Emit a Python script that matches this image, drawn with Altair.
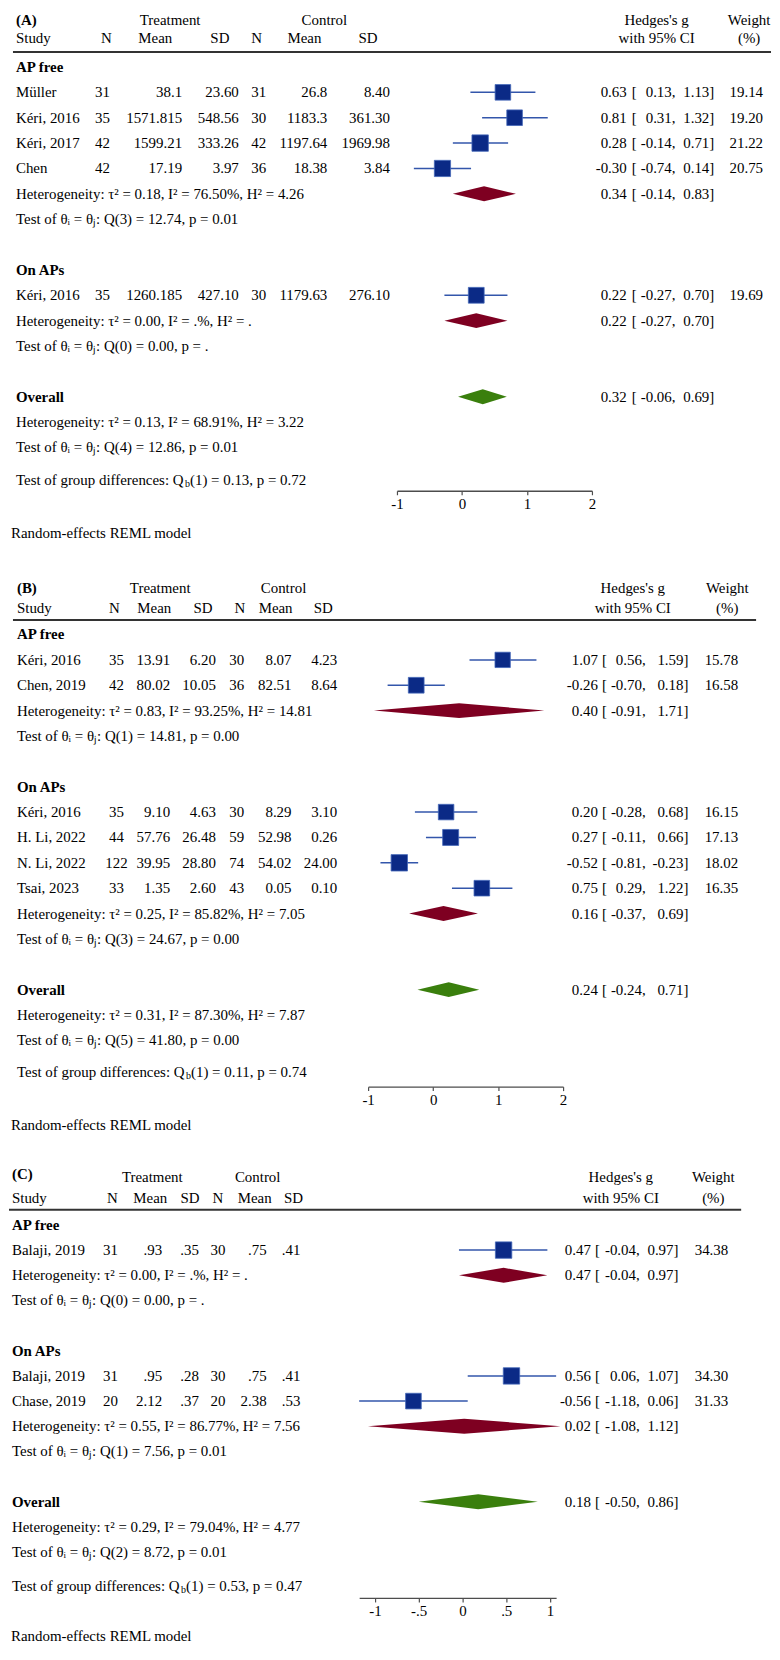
import altair as alt
import pandas as pd

# ============================ DATA ============================
# ---- Panel (A) ----
A_groups = ["AP free", "On APs"]
A_study = ["Müller", "Kéri, 2016", "Kéri, 2017", "Chen", "Kéri, 2016"]
A_group_of = ["AP free", "AP free", "AP free", "AP free", "On APs"]
A_t_n = ["31", "35", "42", "42", "35"]
A_t_mean = ["38.1", "1571.815", "1599.21", "17.19", "1260.185"]
A_t_sd = ["23.60", "548.56", "333.26", "3.97", "427.10"]
A_c_n = ["31", "30", "42", "36", "30"]
A_c_mean = ["26.8", "1183.3", "1197.64", "18.38", "1179.63"]
A_c_sd = ["8.40", "361.30", "1969.98", "3.84", "276.10"]
A_g = [0.63, 0.81, 0.28, -0.30, 0.22]
A_lo = [0.13, 0.31, -0.14, -0.74, -0.27]
A_hi = [1.13, 1.32, 0.71, 0.14, 0.70]
A_w = [19.14, 19.20, 21.22, 20.75, 19.69]
A_sub_g = [0.34, 0.22]
A_sub_lo = [-0.14, -0.27]
A_sub_hi = [0.83, 0.70]
A_sub_het = [("0.18", "76.50%", "4.26"), ("0.00", ".%", ".")]
A_sub_test = [("3", "12.74", "0.01"), ("0", "0.00", ".")]
A_all = (0.32, -0.06, 0.69)
A_all_het = ("0.13", "68.91%", "3.22")
A_all_test = ("4", "12.86", "0.01")
A_qb = ("1", "0.13", "0.72")
A_ticks = [-1, 0, 1, 2]

# ---- Panel (B) ----
B_groups = ["AP free", "On APs"]
B_study = ["Kéri, 2016", "Chen, 2019", "Kéri, 2016", "H. Li, 2022", "N. Li, 2022", "Tsai, 2023"]
B_group_of = ["AP free", "AP free", "On APs", "On APs", "On APs", "On APs"]
B_t_n = ["35", "42", "35", "44", "122", "33"]
B_t_mean = ["13.91", "80.02", "9.10", "57.76", "39.95", "1.35"]
B_t_sd = ["6.20", "10.05", "4.63", "26.48", "28.80", "2.60"]
B_c_n = ["30", "36", "30", "59", "74", "43"]
B_c_mean = ["8.07", "82.51", "8.29", "52.98", "54.02", "0.05"]
B_c_sd = ["4.23", "8.64", "3.10", "0.26", "24.00", "0.10"]
B_g = [1.07, -0.26, 0.20, 0.27, -0.52, 0.75]
B_lo = [0.56, -0.70, -0.28, -0.11, -0.81, 0.29]
B_hi = [1.59, 0.18, 0.68, 0.66, -0.23, 1.22]
B_w = [15.78, 16.58, 16.15, 17.13, 18.02, 16.35]
B_sub_g = [0.40, 0.16]
B_sub_lo = [-0.91, -0.37]
B_sub_hi = [1.71, 0.69]
B_sub_het = [("0.83", "93.25%", "14.81"), ("0.25", "85.82%", "7.05")]
B_sub_test = [("1", "14.81", "0.00"), ("3", "24.67", "0.00")]
B_all = (0.24, -0.24, 0.71)
B_all_het = ("0.31", "87.30%", "7.87")
B_all_test = ("5", "41.80", "0.00")
B_qb = ("1", "0.11", "0.74")
B_ticks = [-1, 0, 1, 2]

# ---- Panel (C) ----
C_groups = ["AP free", "On APs"]
C_study = ["Balaji, 2019", "Balaji, 2019", "Chase, 2019"]
C_group_of = ["AP free", "On APs", "On APs"]
C_t_n = ["31", "31", "20"]
C_t_mean = [".93", ".95", "2.12"]
C_t_sd = [".35", ".28", ".37"]
C_c_n = ["30", "30", "20"]
C_c_mean = [".75", ".75", "2.38"]
C_c_sd = [".41", ".41", ".53"]
C_g = [0.47, 0.56, -0.56]
C_lo = [-0.04, 0.06, -1.18]
C_hi = [0.97, 1.07, 0.06]
C_w = [34.38, 34.30, 31.33]
C_sub_g = [0.47, 0.02]
C_sub_lo = [-0.04, -1.08]
C_sub_hi = [0.97, 1.12]
C_sub_het = [("0.00", ".%", "."), ("0.55", "86.77%", "7.56")]
C_sub_test = [("0", "0.00", "."), ("1", "7.56", "0.01")]
C_all = (0.18, -0.50, 0.86)
C_all_het = ("0.29", "79.04%", "4.77")
C_all_test = ("2", "8.72", "0.01")
C_qb = ("1", "0.53", "0.47")
C_ticks = [-1, -0.5, 0, 0.5, 1]

# ============================ STYLE / LAYOUT ============================
FONT = "Liberation Serif"
FS = 15
NAVY = "#0b2a86"
CI_COL = "#3356ab"
MAROON = "#7e0021"
GREEN = "#3a7f0d"
MARGIN = 8
PANEL_W = 764
SPACING = 86
QB_EM = 11.33  # width (em) of "Test of group differences: Q" in Times metrics

LAYOUT = {
    "A": dict(top=8, height=481, base=63, sp=25.5,
              xdomain=[-1, 2], xpage=[396, 592],
              hdr1=-1.84, hdr_tag=-1.84, hdr2=-1.14, line=-0.59, qb=16.27, rand=18.39,
              line_x=[10, 772], tag="(A)",
              x=dict(lab=13, tN=100, tM=180, tS=237, cN=257, cM=326, cS=389,
                     est=627, brk=632, lo=676, hi=715, wt=764,
                     hTreat=168, hCtrl=323, hN1=104, hM1=153, hS1=218,
                     hN2=255, hM2=303, hS2=367, hHg=657, hWt=750)),
    "B": dict(top=575, height=513, base=633.5, sp=25.5,
              xdomain=[-1, 2], xpage=[367, 563],
              hdr1=-1.82, hdr_tag=-1.82, hdr2=-1.04, line=-0.57, qb=17.24, rand=19.35,
              line_x=[10, 757], tag="(B)",
              x=dict(lab=14, tN=114, tM=168, tS=214, cN=235, cM=290, cS=336,
                     est=598, brk=602, lo=646, hi=689, wt=739,
                     hTreat=158, hCtrl=282, hN1=112, hM1=152, hS1=201,
                     hN2=238, hM2=274, hS2=322, hHg=633, hWt=728)),
    "C": dict(top=1174, height=428, base=1227, sp=25.3,
              xdomain=[-1.18, 1.07], xpage=[358, 556],
              hdr1=-1.9, hdr_tag=-2.02, hdr2=-1.07, line=-0.6, qb=14.34, rand=16.32,
              line_x=[6, 742], tag="(C)",
              x=dict(lab=9, tN=108, tM=160, tS=197, cN=216, cM=265, cS=299,
                     est=591, brk=595, lo=640, hi=679, wt=729,
                     hTreat=150, hCtrl=256, hN1=110, hM1=148, hS1=188,
                     hN2=216, hM2=253, hS2=292, hHg=621, hWt=714)),
}

PANELS = {
    "A": dict(groups=A_groups, study=A_study, group_of=A_group_of, t_n=A_t_n, t_mean=A_t_mean,
              t_sd=A_t_sd, c_n=A_c_n, c_mean=A_c_mean, c_sd=A_c_sd, g=A_g, lo=A_lo, hi=A_hi,
              w=A_w, sub_g=A_sub_g, sub_lo=A_sub_lo, sub_hi=A_sub_hi, sub_het=A_sub_het,
              sub_test=A_sub_test, all=A_all, all_het=A_all_het, all_test=A_all_test,
              qb=A_qb, ticks=A_ticks),
    "B": dict(groups=B_groups, study=B_study, group_of=B_group_of, t_n=B_t_n, t_mean=B_t_mean,
              t_sd=B_t_sd, c_n=B_c_n, c_mean=B_c_mean, c_sd=B_c_sd, g=B_g, lo=B_lo, hi=B_hi,
              w=B_w, sub_g=B_sub_g, sub_lo=B_sub_lo, sub_hi=B_sub_hi, sub_het=B_sub_het,
              sub_test=B_sub_test, all=B_all, all_het=B_all_het, all_test=B_all_test,
              qb=B_qb, ticks=B_ticks),
    "C": dict(groups=C_groups, study=C_study, group_of=C_group_of, t_n=C_t_n, t_mean=C_t_mean,
              t_sd=C_t_sd, c_n=C_c_n, c_mean=C_c_mean, c_sd=C_c_sd, g=C_g, lo=C_lo, hi=C_hi,
              w=C_w, sub_g=C_sub_g, sub_lo=C_sub_lo, sub_hi=C_sub_hi, sub_het=C_sub_het,
              sub_test=C_sub_test, all=C_all, all_het=C_all_het, all_test=C_all_test,
              qb=C_qb, ticks=C_ticks),
}

KEY_STYLE = {
    "lab": dict(align="left"), "bold": dict(align="left", fontWeight="bold"),
    "rand": dict(align="left"), "qb1": dict(align="left"),
    "qbb": dict(align="left", fontSize=10, dy=4), "qb2": dict(align="left"),
    "tN": dict(align="center"), "tM": dict(align="right"), "tS": dict(align="right"),
    "cN": dict(align="center"), "cM": dict(align="right"), "cS": dict(align="right"),
    "est": dict(align="right"), "brk": dict(align="left"), "lo": dict(align="right"),
    "hi": dict(align="right"), "wt": dict(align="right"),
    "hTreat": dict(align="center"), "hCtrl": dict(align="center"),
    "hN1": dict(align="center"), "hM1": dict(align="center"), "hS1": dict(align="center"),
    "hN2": dict(align="center"), "hM2": dict(align="center"), "hS2": dict(align="center"),
    "hHg": dict(align="center"), "hWt": dict(align="center"),
}


def f2(v):
    return f"{v:.2f}"


def het_text(h):
    return f"Heterogeneity: τ² = {h[0]}, I² = {h[1]}, H² = {h[2]}"


def test_text(t):
    return f"Test of θᵢ = θⱼ: Q({t[0]}) = {t[1]}, p = {t[2]}"


def assemble(D, L):
    texts, studies, dias = [], [], []
    d = 7.5 / L["sp"]

    def ci(row, g, lo, hi):
        texts.append((row, "est", f2(g)))
        texts.append((row, "brk", "["))
        texts.append((row, "lo", f2(lo) + ","))
        texts.append((row, "hi", f2(hi) + "]"))

    def diamond(did, kind, row, g, lo, hi):
        dias.append(dict(id=did, kind=kind, x=lo, yt=row, yb=row))
        dias.append(dict(id=did, kind=kind, x=g, yt=row - d, yb=row + d))
        dias.append(dict(id=did, kind=kind, x=hi, yt=row, yb=row))

    # header
    texts += [(L["hdr_tag"], "bold", L["tag"]), (L["hdr1"], "hTreat", "Treatment"),
              (L["hdr1"], "hCtrl", "Control"), (L["hdr1"], "hHg", "Hedges's g"),
              (L["hdr1"], "hWt", "Weight"),
              (L["hdr2"], "lab", "Study"), (L["hdr2"], "hN1", "N"), (L["hdr2"], "hM1", "Mean"),
              (L["hdr2"], "hS1", "SD"), (L["hdr2"], "hN2", "N"), (L["hdr2"], "hM2", "Mean"),
              (L["hdr2"], "hS2", "SD"), (L["hdr2"], "hHg", "with 95% CI"),
              (L["hdr2"], "hWt", "(%)")]
    r = 0
    for gi, gname in enumerate(D["groups"]):
        texts.append((r, "bold", gname))
        r += 1
        for i, gname_i in enumerate(D["group_of"]):
            if gname_i != gname:
                continue
            texts += [(r, "lab", D["study"][i]), (r, "tN", D["t_n"][i]),
                      (r, "tM", D["t_mean"][i]), (r, "tS", D["t_sd"][i]),
                      (r, "cN", D["c_n"][i]), (r, "cM", D["c_mean"][i]),
                      (r, "cS", D["c_sd"][i]), (r, "wt", f2(D["w"][i]))]
            ci(r, D["g"][i], D["lo"][i], D["hi"][i])
            studies.append(dict(row=r, g=D["g"][i], lo=D["lo"][i], hi=D["hi"][i], w=D["w"][i]))
            r += 1
        texts.append((r, "lab", het_text(D["sub_het"][gi])))
        ci(r, D["sub_g"][gi], D["sub_lo"][gi], D["sub_hi"][gi])
        diamond(f"s{gi}", "sub", r, D["sub_g"][gi], D["sub_lo"][gi], D["sub_hi"][gi])
        r += 1
        texts.append((r, "lab", test_text(D["sub_test"][gi])))
        r += 2
    g, lo, hi = D["all"]
    texts.append((r, "bold", "Overall"))
    ci(r, g, lo, hi)
    diamond("all", "all", r, g, lo, hi)
    r += 1
    texts.append((r, "lab", het_text(D["all_het"])))
    r += 1
    texts.append((r, "lab", test_text(D["all_test"])))
    q = D["qb"]
    texts += [(L["qb"], "qb1", "Test of group differences: Q"), (L["qb"], "qbb", "b"),
              (L["qb"], "qb2", f"({q[0]}) = {q[1]}, p = {q[2]}"),
              (L["rand"], "rand", "Random-effects REML model")]
    tdf = pd.DataFrame(texts, columns=["row", "key", "text"])
    return tdf, pd.DataFrame(studies), pd.DataFrame(dias)


def build_panel(name):
    D, L = PANELS[name], LAYOUT[name]
    tdf, sdf, ddf = assemble(D, L)
    base = L["base"] - L["top"]
    yscale = alt.Scale(domain=[0, 1], range=[base, base + L["sp"]], nice=False, zero=False)
    xscale = alt.Scale(domain=L["xdomain"], range=[L["xpage"][0] - MARGIN, L["xpage"][1] - MARGIN],
                       nice=False, zero=False)
    if name == "C":
        lab_expr = "datum.value == 0 ? '0' : replace(toString(datum.value), '0.', '.')"
    else:
        lab_expr = "toString(datum.value)"
    axis = alt.Axis(values=D["ticks"], title=None, grid=False, domainColor="#4d4d4d",
                    domainWidth=1.3, tickColor="#4d4d4d", tickWidth=1.2, tickSize=4,
                    labelFont=FONT, labelFontSize=FS, labelColor="black", labelPadding=2,
                    labelFlush=False, labelOverlap=False, labelExpr=lab_expr)

    def X(f):
        return alt.X(f, type="quantitative", scale=xscale, axis=axis)

    def Y(f, **kw):
        return alt.Y(f, type="quantitative", scale=yscale, axis=None, **kw)

    layers = []
    # header rule
    line_df = pd.DataFrame({"row": [L["line"]]})
    layers.append(alt.Chart(line_df).mark_rule(color="#333333", strokeWidth=2).encode(
        x=alt.value(L["line_x"][0] - MARGIN), x2=alt.value(L["line_x"][1] - MARGIN), y=Y("row")))
    # CI lines
    layers.append(alt.Chart(sdf).mark_rule(color=CI_COL, strokeWidth=1.5).encode(
        x=X("lo"), x2=alt.X2("hi"), y=Y("row")))
    # study squares
    layers.append(alt.Chart(sdf).mark_square(filled=True, color=NAVY, stroke="#4468b8",
                                             strokeWidth=0.8, opacity=1).encode(
        x=X("g"), y=Y("row"),
        size=alt.Size("w:Q", scale=alt.Scale(domain=[0, max(D["w"])], range=[0, 272]),
                      legend=None)))
    # diamonds
    for kind, col in (("sub", MAROON), ("all", GREEN)):
        layers.append(alt.Chart(ddf[ddf["kind"] == kind]).mark_area(
            orient="vertical", color=col, opacity=1).encode(
            x=X("x"), y=Y("yt", stack=False), y2=alt.Y2("yb"), detail="id:N"))
    # texts
    xpos = dict(L["x"])
    xpos["bold"] = xpos["lab"]
    xpos["qb1"] = xpos["lab"]
    xpos["qbb"] = xpos["lab"] + QB_EM * FS
    xpos["qb2"] = xpos["lab"] + QB_EM * FS + 5
    xpos["rand"] = MARGIN
    for key, style in KEY_STYLE.items():
        sub = tdf[tdf["key"] == key]
        if sub.empty:
            continue
        kw = dict(font=FONT, fontSize=FS, baseline="middle", color="black")
        kw.update(style)
        layers.append(alt.Chart(sub).mark_text(**kw).encode(
            x=alt.value(xpos[key] - MARGIN), y=Y("row"), text="text:N"))
    return alt.layer(*layers).properties(width=PANEL_W, height=L["height"])


chart = alt.vconcat(build_panel("A"), build_panel("B"), build_panel("C"),
                    spacing=SPACING, bounds="flush").resolve_scale(
    x="independent", y="independent", size="independent").properties(
    padding=0, background="white").configure_view(stroke=None)

chart.save("out.html", embed_options={"renderer": "svg", "actions": False})
